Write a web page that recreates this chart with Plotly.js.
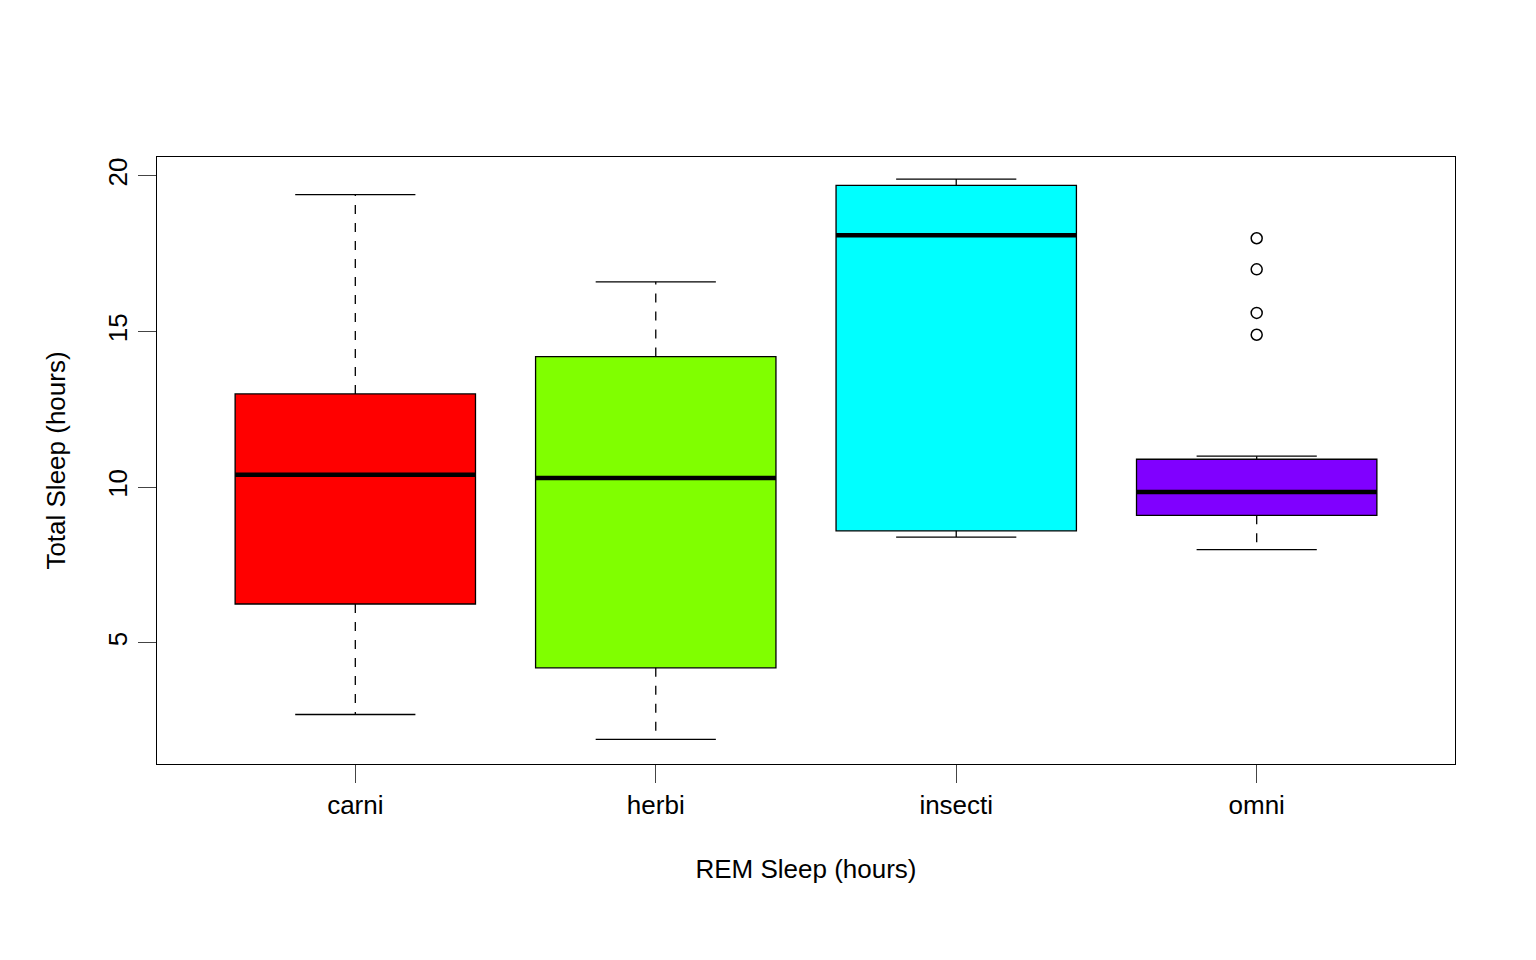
<!DOCTYPE html>
<html><head><meta charset="utf-8">
<script src="https://cdn.plot.ly/plotly-3.0.1.min.js"></script>
<style>body{margin:0;background:#fff}</style></head>
<body><div id="plot" style="width:1536px;height:960px"></div>
<script>
var groups = ["carni", "herbi", "insecti", "omni"];
var colors = ["#FF0000", "#80FF00", "#00FFFF", "#8000FF"];
var lowerW = [2.7, 1.9, 8.4, 8.0];
var q1 = [6.25, 4.2, 8.6, 9.1];
var med = [10.4, 10.3, 18.1, 9.85];
var q3 = [13.0, 14.2, 19.7, 10.9];
var upperW = [19.4, 16.6, 19.9, 11.0];
var outX = [3, 3, 3, 3];
var outY = [18.0, 17.0, 15.6, 14.9];

var boxW = 0.8, capW = 0.4;
var traces = [];
for (var i = 0; i < groups.length; i++) {
    // dashed whiskers
    traces.push({x: [i, i, null, i, i], y: [q3[i], upperW[i], null, q1[i], lowerW[i]],
        mode: 'lines', line: {color: 'black', width: 1.3, dash: 'dash'}, hoverinfo: 'skip'});
    // caps
    traces.push({x: [i - capW/2, i + capW/2, null, i - capW/2, i + capW/2],
        y: [upperW[i], upperW[i], null, lowerW[i], lowerW[i]],
        mode: 'lines', line: {color: 'black', width: 1.3}, hoverinfo: 'skip'});
    traces.push({type: 'box', x: [i], q1: [q1[i]], median: [med[i]], q3: [q3[i]],
        lowerfence: [q1[i]], upperfence: [q3[i]], width: boxW,
        fillcolor: colors[i], line: {color: 'black', width: 1.3}, boxpoints: false});
    // thick median
    traces.push({x: [i - boxW/2, i + boxW/2], y: [med[i], med[i]],
        mode: 'lines', line: {color: 'black', width: 4.5}, hoverinfo: 'skip'});
}
traces.push({x: outX, y: outY, mode: 'markers',
    marker: {symbol: 'circle-open', size: 11, color: 'black', line: {width: 1.5}}});

var font = {family: 'Liberation Sans, Arial, sans-serif', size: 26, color: 'black'};
var layout = {
    showlegend: false,
    margin: {l: 157, r: 81, t: 157, b: 196},
    plot_bgcolor: 'white', paper_bgcolor: 'white',
    font: font,
    xaxis: {range: [-0.66, 3.66], tickvals: [0, 1, 2, 3], ticktext: groups,
        ticks: 'outside', ticklen: 18, tickwidth: 1.3, showgrid: false, zeroline: false,
        showline: true, mirror: true, linecolor: 'black', linewidth: 1.3, tickfont: font,
        title: {text: 'REM Sleep (hours)', font: font, standoff: 40}},
    yaxis: {range: [1.11, 20.61], tickvals: [5, 10, 15, 20], tickangle: -90,
        ticks: 'outside', ticklen: 18, tickwidth: 1.3, showgrid: false, zeroline: false,
        showline: true, mirror: true, linecolor: 'black', linewidth: 1.3, tickfont: font,
        title: {text: 'Total Sleep (hours)', font: font, standoff: 30}}
};
Plotly.newPlot('plot', traces, layout, {displayModeBar: false});
</script></body></html>
